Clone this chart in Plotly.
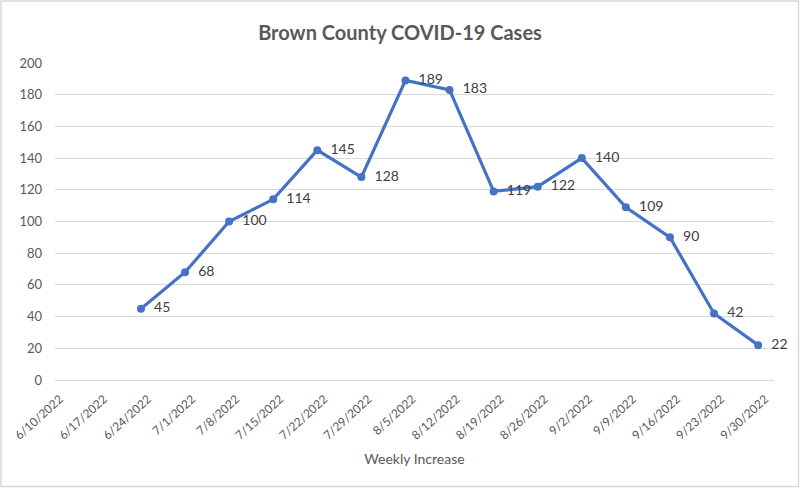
import plotly.graph_objects as go

dates = ["6/10/2022", "6/17/2022", "6/24/2022", "7/1/2022", "7/8/2022", "7/15/2022",
         "7/22/2022", "7/29/2022", "8/5/2022", "8/12/2022", "8/19/2022", "8/26/2022",
         "9/2/2022", "9/9/2022", "9/16/2022", "9/23/2022", "9/30/2022"]
cases = [None, None, 45, 68, 100, 114, 145, 128, 189, 183, 119, 122, 140, 109, 90, 42, 22]

W, H = 800, 488
ml, mr, mt, mb = 55, 26, 63, 108

idx = list(range(len(dates)))
xs = [i for i, v in zip(idx, cases) if v is not None]
ys = [v for v in cases if v is not None]

FONT = "Lato, sans-serif"

fig = go.Figure()
fig.add_trace(go.Scatter(
    x=xs, y=ys, mode="lines+markers+text",
    line=dict(color="#4472C4", width=3.2),
    marker=dict(color="#4472C4", size=8),
    text=["  " + str(v) for v in ys], textposition="middle right",
    textfont=dict(family=FONT, size=14, color="#404040"),
    cliponaxis=False, showlegend=False, hoverinfo="skip",
))

pw = W - ml - mr
ph = H - mt - mb
fig.update_layout(
    width=W, height=H,
    margin=dict(l=ml, r=mr, t=mt, b=mb, autoexpand=False),
    paper_bgcolor="white", plot_bgcolor="white",
    title=dict(text="<b>Brown County COVID-19 Cases</b>", x=0.5, xanchor="center",
               y=1 - 33 / H, yanchor="middle",
               font=dict(family=FONT, size=20, color="#595959")),
    xaxis=dict(range=[0.05, 16.36], tickmode="array", automargin=False,
               tickvals=[i + 0.16 for i in idx], ticktext=dates, tickangle=-42,
               showgrid=False, zeroline=False, showline=False, ticks="",
               ticklabelstandoff=9,
               tickfont=dict(family=FONT, size=12, color="#595959"),
               title=dict(text="Weekly Increase", standoff=12,
                          font=dict(family=FONT, size=14, color="#595959"))),
    yaxis=dict(range=[0, 200], tickvals=list(range(0, 201, 20)), automargin=False,
               showgrid=True, gridcolor="#d9d9d9", gridwidth=1,
               zeroline=True, zerolinecolor="#d9d9d9", zerolinewidth=1,
               ticks="", ticklabelstandoff=12,
               tickfont=dict(family=FONT, size=13, color="#595959")),
    shapes=[dict(type="rect", xref="paper", yref="paper",
                 x0=(-ml + 1) / pw, x1=(pw + mr - 1.5) / pw,
                 y0=(-mb + 1.5) / ph, y1=(ph + mt - 1) / ph,
                 line=dict(color="#d9d9d9", width=1.5))],
)

fig.write_html("out.html", config={"displayModeBar": False})
with open("out.html", encoding="utf-8") as f:
    html = f.read()
html = html.replace(
    "<body>",
    "<body><style>html,body{margin:0;padding:0;overflow:hidden}</style>", 1)
with open("out.html", "w", encoding="utf-8") as f:
    f.write(html)
